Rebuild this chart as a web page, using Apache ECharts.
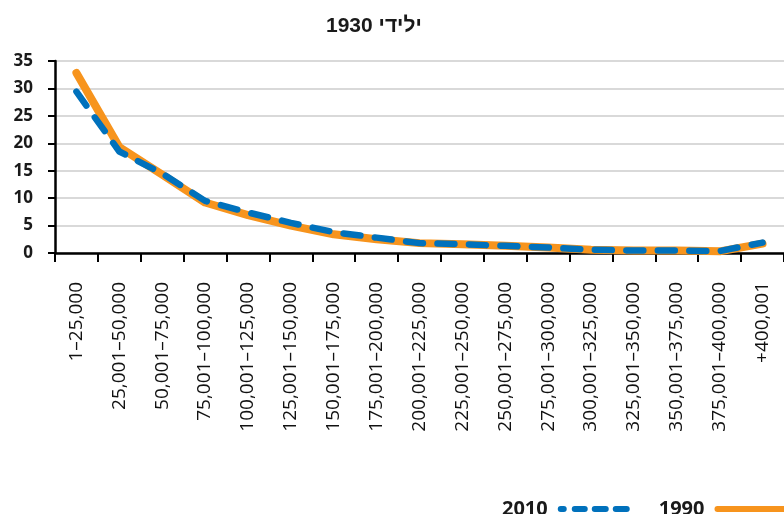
<!DOCTYPE html>
<html>
<head>
<meta charset="utf-8">
<script src="https://cdn.jsdelivr.net/npm/echarts@6/dist/echarts.min.js"></script>
<style>
  html, body { margin: 0; padding: 0; background: #ffffff; }
  #chart { width: 784px; height: 514px; }
</style>
</head>
<body>
<div id="chart"></div>
<script>
// ---- data ----
const chartTitle = "\u202Bילידי 1930\u202C";
const categories = [
  "1–25,000", "25,001–50,000", "50,001–75,000", "75,001–100,000",
  "100,001–125,000", "125,001–150,000", "150,001–175,000", "175,001–200,000",
  "200,001–225,000", "225,001–250,000", "250,001–275,000", "275,001–300,000",
  "300,001–325,000", "325,001–350,000", "350,001–375,000", "375,001–400,000",
  "+400,001"
];
const series1990 = [32.8, 19.3, 14.3, 9.2, 6.9, 5.0, 3.4, 2.5, 1.8, 1.6, 1.3, 1.0, 0.6, 0.45, 0.45, 0.3, 1.7];
const series2010 = [29.4, 18.5, 14.5, 9.5, 7.4, 5.5, 3.8, 2.8, 1.8, 1.6, 1.3, 1.0, 0.6, 0.45, 0.45, 0.35, 1.9];
const yTicks = { min: 0, max: 35, interval: 5 };

// legend icon shapes (rounded bars) in a 72x6 box
function pill(x1, x2) {
  return 'M' + (x1 + 3) + ' 0 H' + (x2 - 3) + ' A3 3 0 0 1 ' + (x2 - 3) + ' 6 H' + (x1 + 3) + ' A3 3 0 0 1 ' + (x1 + 3) + ' 0 Z ';
}
const dashedIcon = 'path://' + pill(0, 9) + pill(14, 30) + pill(34, 51) + pill(55, 72);
const solidIcon = 'path://' + pill(0, 72);

const chart = echarts.init(document.getElementById('chart'), null, { renderer: 'canvas' });
chart.setOption({
  backgroundColor: '#ffffff',
  animation: false,
  title: {
    text: chartTitle,
    left: 321,
    top: 11,
    textStyle: {
      fontFamily: 'Liberation Sans, Arial, sans-serif',
      fontSize: 21,
      fontWeight: 'bold',
      color: '#1a1a1a'
    }
  },
  legend: {
    data: [
      { name: '2010', icon: dashedIcon, itemStyle: { color: '#0071BC' } },
      { name: '1990', icon: solidIcon, itemStyle: { color: '#F7941D' } }
    ],
    left: 497,
    top: 494,
    width: 400,
    align: 'right',
    itemWidth: 72,
    itemHeight: 6,
    itemGap: 29,
    textStyle: {
      fontFamily: 'Open Sans, Noto Sans, sans-serif',
      fontSize: 20,
      fontWeight: 'bold',
      color: '#1a1a1a',
      padding: [0, 5, 0, 0]
    }
  },
  grid: {
    left: 55,
    top: 61,
    width: 738,
    height: 192,
    containLabel: false
  },
  xAxis: {
    type: 'category',
    data: categories,
    boundaryGap: true,
    axisLine: { show: true, lineStyle: { color: '#000000', width: 2.5 } },
    axisTick: { show: true, length: 9, lineStyle: { color: '#000000', width: 2 } },
    axisLabel: {
      rotate: 90,
      interval: 0,
      margin: 29,
      fontFamily: 'Open Sans, Noto Sans, sans-serif',
      fontSize: 19,
      fontWeight: 500,
      color: '#111111'
    },
    splitLine: { show: false }
  },
  yAxis: {
    type: 'value',
    min: yTicks.min,
    max: yTicks.max,
    interval: yTicks.interval,
    axisLine: { show: true, lineStyle: { color: '#000000', width: 2.5 } },
    axisTick: { show: true, length: 7, lineStyle: { color: '#000000', width: 2 } },
    axisLabel: {
      margin: 22,
      fontFamily: 'Open Sans, Noto Sans, sans-serif',
      fontSize: 17,
      fontWeight: 'bold',
      color: '#1a1a1a'
    },
    splitLine: { show: true, lineStyle: { color: '#d9d9d9', width: 2 } }
  },
  series: [
    {
      name: '1990',
      type: 'line',
      data: series1990,
      symbol: 'none',
      smooth: false,
      z: 2,
      lineStyle: { color: '#F7941D', width: 8, cap: 'round', join: 'round' },
      itemStyle: { color: '#F7941D' }
    },
    {
      name: '2010',
      type: 'line',
      data: series2010,
      symbol: 'none',
      smooth: false,
      z: 3,
      lineStyle: { color: '#0071BC', width: 6.5, type: [17, 14.5], cap: 'round', join: 'round' },
      itemStyle: { color: '#0071BC' }
    }
  ]
});
</script>
</body>
</html>
